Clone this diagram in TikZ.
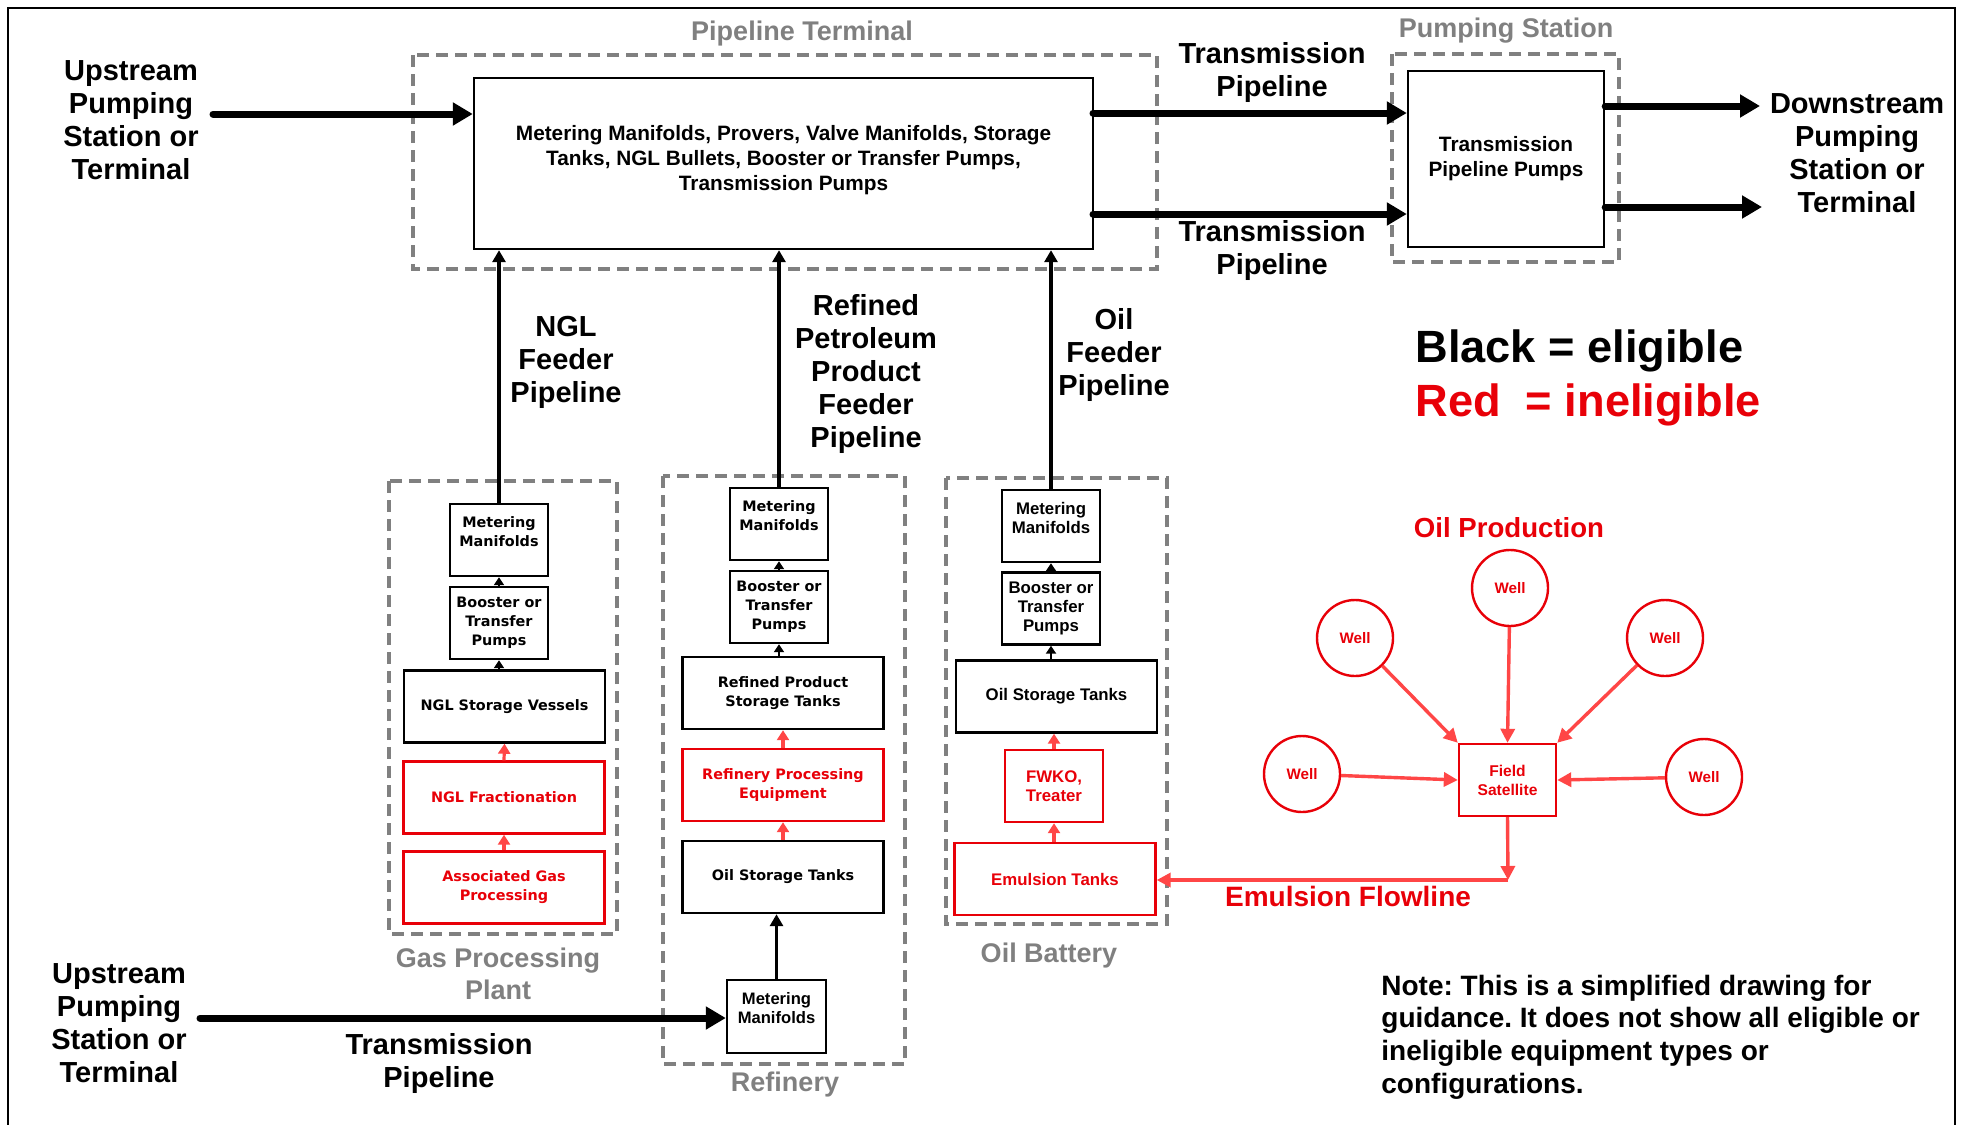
\documentclass[tikz,border=0pt]{standalone}
\usepackage{fontspec}
\setmainfont{Liberation Sans}
\newfontfamily\vfont{DejaVu Sans}
\usetikzlibrary{arrows.meta}
\definecolor{framegray}{RGB}{128,128,128}
\definecolor{inred}{RGB}{232,0,8}
\definecolor{flowred}{RGB}{255,70,70}
\frenchspacing
\begin{document}
\begin{tikzpicture}[x=0.5pt,y=-0.5pt,
  box/.style={draw, line width=1.2pt, align=center, inner sep=1pt},
  redbox/.style={box, draw=inred, text=inred},
  grp/.style={draw=framegray, line width=1.8pt, dash pattern=on 6pt off 3.5pt},
  grptitle/.style={text=framegray, align=center, font=\bfseries\fontsize{13.5}{16}\selectfont},
  biglabel/.style={align=center, font=\bfseries\fontsize{14.5}{16.5}\selectfont},
  mainpipe/.style={line width=3.5pt, line cap=round, -{Triangle[length=10pt,width=11pt]}},
  feeder/.style={line width=1.6pt, -{Triangle[length=6pt,width=6.5pt]}},
  stack/.style={line width=1.2pt, -{Triangle[length=4pt,width=5pt]}},
  redstack/.style={line width=1.6pt, color=flowred, -{Triangle[length=5pt,width=6pt]}},
  wellflow/.style={line width=1.7pt, color=flowred, -{Triangle[length=7pt,width=7pt]}},
  vsmall/.style={font=\vfont\bfseries\fontsize{7.2}{9.5}\selectfont},
  asmall/.style={font=\bfseries\fontsize{8.4}{9.5}\selectfont},
  narrowbox/.style={minimum width=49pt, minimum height=36pt},
  widebox/.style={minimum width=100.5pt, minimum height=36pt},
  well/.style={circle, draw=inred, text=inred, line width=1.2pt, minimum size=38pt, inner sep=0pt, font=\bfseries\fontsize{7.6}{9}\selectfont},
]
\useasboundingbox (0,0) rectangle (1963,1124);
\draw[line width=1pt] (8,1130) -- (8,8) -- (1955,8) -- (1955,1130);

% group frames
\draw[grp] (413,55) rectangle (1157,269);
\draw[grp] (1392,54) rectangle (1619,262);
\draw[grp] (389,481) rectangle (617,934);
\draw[grp] (663,476) rectangle (905,1064);
\draw[grp] (946,478) rectangle (1167,924);
\node[grptitle] (ttlterm) at (802,34) {Pipeline Terminal};
\node[grptitle] (ttlpump) at (1506,31) {Pumping Station};
\node[grptitle] (ttlgas) at (498,974) {Gas Processing\\Plant};
\node[grptitle] (ttlref) at (785,1085) {Refinery};
\node[grptitle] (ttloil) at (1049,956) {Oil Battery};

% terminal and pumping station
\node[box, minimum width=309.5pt, minimum height=85.5pt, font=\bfseries\fontsize{10.4}{12.5}\selectfont] (terminal) at (783.5,163.5) {Metering Manifolds, Provers, Valve Manifolds, Storage\\Tanks, NGL Bullets, Booster or Transfer Pumps,\\Transmission Pumps\\[-7pt]};
\node[box, minimum width=98pt, minimum height=88pt, font=\bfseries\fontsize{10.4}{12.5}\selectfont] (pumps) at (1506,159) {Transmission\\Pipeline Pumps};

% gas processing plant
\node[box, narrowbox, vsmall] (nglmeter) at (499,540) {Metering\\Manifolds\\[-1pt]};
\node[box, narrowbox, vsmall] (nglboost) at (499,623) {Booster or\\Transfer\\Pumps};
\node[box, widebox, vsmall] (nglstore) at (504.5,706.5) {NGL Storage Vessels};
\node[redbox, widebox, vsmall] (nglfrac) at (504,797.5) {NGL Fractionation};
\node[redbox, widebox, vsmall] (assocgas) at (504,887.5) {Associated Gas\\Processing};

% refinery
\node[box, narrowbox, vsmall] (refmeter) at (779,524) {Metering\\Manifolds\\[-1pt]};
\node[box, narrowbox, vsmall] (refboost) at (779,607) {Booster or\\Transfer\\Pumps};
\node[box, widebox, vsmall] (refstore) at (783,693) {Refined Product\\Storage Tanks};
\node[redbox, widebox, vsmall] (refproc) at (783,785) {Refinery Processing\\Equipment};
\node[box, widebox, vsmall] (refoil) at (783,877) {Oil Storage Tanks};
\node[box, minimum width=49.5pt, minimum height=36.5pt, font=\bfseries\fontsize{8.3}{9.5}\selectfont] (botmeter) at (776.5,1016.5) {Metering\\Manifolds\\[-1pt]};

% oil battery
\node[box, narrowbox, asmall] (oilmeter) at (1051,526) {Metering\\Manifolds\\[-1pt]};
\node[box, narrowbox, asmall] (oilboost) at (1051,608.5) {Booster or\\Transfer\\Pumps};
\node[box, widebox, asmall] (oilstore) at (1056.5,696.5) {Oil Storage Tanks};
\node[redbox, narrowbox, asmall] (fwko) at (1054,786) {FWKO,\\Treater};
\node[redbox, widebox, asmall] (emtanks) at (1055,879) {Emulsion Tanks};

% oil production
\node[well] (welltop) at (1510,588) {Well};
\node[well] (wellul) at (1355,638) {Well};
\node[well] (wellur) at (1665,638) {Well};
\node[well] (welll) at (1302,774) {Well};
\node[well] (wellr) at (1704,777) {Well};
\node[redbox, minimum width=48.5pt, minimum height=36pt, font=\bfseries\fontsize{7.8}{9.5}\selectfont] (satellite) at (1507.5,780) {Field\\Satellite};
\coordinate (flowturn) at (1508,880);

% pipelines
\coordinate (upin) at (213,114);
\coordinate (lowin) at (200,1018);
\coordinate (trA) at (1093,113);
\coordinate (trB) at (1093,214);
\coordinate (downA) at (1760,106);
\coordinate (downB) at (1762,207);
\draw[mainpipe] (upin) -- (upin -| terminal.west);
\draw[mainpipe] (trA) -- (trA -| pumps.west);
\draw[mainpipe] (trB) -- (trB -| pumps.west);
\draw[mainpipe] (downA -| pumps.east) -- (downA);
\draw[mainpipe] (downB -| pumps.east) -- (downB);
\draw[mainpipe] (lowin) -- (lowin -| botmeter.west);

\draw[feeder] (nglmeter.north) -- (nglmeter.north |- terminal.south);
\draw[feeder] (refmeter.north) -- (refmeter.north |- terminal.south);
\draw[feeder] (oilmeter.north) -- (oilmeter.north |- terminal.south);

\draw[stack] (nglboost.north) -- (nglmeter.south);
\draw[stack] (nglboost.south |- nglstore.north) -- (nglboost.south);
\draw[redstack] (nglfrac.north) -- (nglstore.south);
\draw[redstack] (assocgas.north) -- (nglfrac.south);
\draw[stack] (refboost.north) -- (refmeter.south);
\draw[stack] (refboost.south |- refstore.north) -- (refboost.south);
\draw[redstack] (refproc.north) -- (refstore.south);
\draw[redstack] (refoil.north) -- (refproc.south);
\draw[feeder] (botmeter.north) -- (botmeter.north |- refoil.south);
\draw[stack] (oilboost.north) -- (oilmeter.south);
\draw[stack] (oilboost.south |- oilstore.north) -- (oilboost.south);
\draw[redstack] (fwko.north) -- (fwko.north |- oilstore.south);
\draw[redstack] (fwko.south |- emtanks.north) -- (fwko.south);

\draw[wellflow] (welltop) -- (satellite.north);
\draw[wellflow] (wellul) -- (satellite.north west);
\draw[wellflow] (wellur) -- (satellite.north east);
\draw[wellflow] (welll) -- (satellite.west);
\draw[wellflow] (wellr) -- (satellite.east);
\draw[wellflow] (satellite.south) -- (flowturn);
\draw[wellflow] (flowturn) -- (flowturn -| emtanks.east);

% labels
\node[biglabel] (upstreamA) at (131,120) {Upstream\\Pumping\\Station or\\Terminal};
\node[biglabel] (upstreamB) at (119,1023) {Upstream\\Pumping\\Station or\\Terminal};
\node[biglabel] (downstream) at (1857,153) {Downstream\\Pumping\\Station or\\Terminal};
\node[biglabel] (trlblA) at (1272,73) {Transmission\\Pipeline};
\node[biglabel] (trlblB) at (1272,250) {Transmission\\Pipeline};
\node[biglabel] (trlblC) at (439,1063) {Transmission\\Pipeline};
\node[biglabel] (ngllbl) at (566,362) {NGL\\Feeder\\Pipeline};
\node[biglabel] (reflbl) at (866,374) {Refined\\Petroleum\\Product\\Feeder\\Pipeline};
\node[biglabel] (oillbl) at (1114,355) {Oil\\Feeder\\Pipeline};
\node[biglabel, text=inred, font=\bfseries\fontsize{13.8}{16}\selectfont] (prodlbl) at (1509,528) {Oil Production};
\node[biglabel, text=inred, font=\bfseries\fontsize{14}{16}\selectfont] (flowlbl) at (1348,896) {Emulsion Flowline};
\node[anchor=west, inner sep=0pt, font=\bfseries\fontsize{22.6}{27}\selectfont] (legblack) at (1415,351) {Black = eligible};
\node[anchor=west, inner sep=0pt, text=inred, font=\bfseries\fontsize{22.6}{27}\selectfont] (legred) at (1415,405) {Red\ \ = ineligible};
\node[anchor=west, align=left, inner sep=0pt, font=\bfseries\fontsize{14}{16.3}\selectfont] (note) at (1381,1037) {Note: This is a simplified drawing for\\guidance. It does not show all eligible or\\ineligible equipment types or\\configurations.};
\end{tikzpicture}
\end{document}
